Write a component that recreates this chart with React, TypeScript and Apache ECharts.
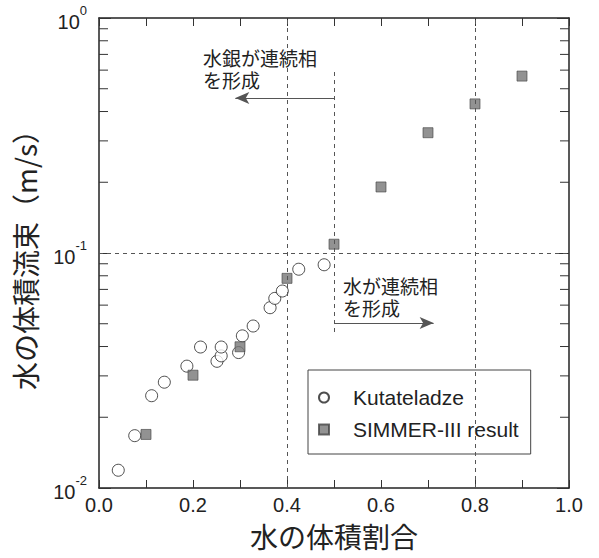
import React, { useEffect, useRef } from "react";
import * as echarts from "echarts";

// Kutateladze correlation (open circles)
const kutX = [0.041, 0.076, 0.112, 0.139, 0.187, 0.216, 0.251, 0.26, 0.26, 0.297, 0.305, 0.328, 0.364, 0.374, 0.39, 0.425, 0.479];
const kutY = [0.0119, 0.0167, 0.0247, 0.0282, 0.033, 0.0398, 0.0346, 0.0365, 0.0398, 0.0377, 0.0444, 0.0489, 0.0585, 0.0641, 0.0689, 0.0853, 0.0891];

// SIMMER-III result (filled squares)
const simX = [0.1, 0.2, 0.3, 0.4, 0.5, 0.6, 0.7, 0.8, 0.9];
const simY = [0.0169, 0.0302, 0.0399, 0.078, 0.109, 0.191, 0.325, 0.431, 0.566];

// log minor tick values
const minorTicks = [0.02, 0.03, 0.04, 0.05, 0.06, 0.07, 0.08, 0.09, 0.2, 0.3, 0.4, 0.5, 0.6, 0.7, 0.8, 0.9];

const seriesNames = ["Kutateladze", "SIMMER-III result"];
const xName = "水の体積割合";
const yName = "水の体積流束（m/s）";
const noteMercury = "水銀が連続相\nを形成";
const noteWater = "水が連続相\nを形成";

// annotation lines (data coordinates)
const dashedX = [0.4, 0.8];
const dashedY = [0.1];
const boundaryX = 0.5;
const boundarySpan = [0.589, 0.0448];
const leftArrow = { y: 0.457, from: 0.5, to: 0.29 };
const rightArrow = { y: 0.0504, from: 0.5, to: 0.712 };

const LATIN = "'Liberation Sans', Arial, sans-serif";
const CJK = "'Noto Sans CJK JP', sans-serif";
const NOTE_FONT = "'Liberation Sans', 'Noto Sans CJK JP', sans-serif";
const INK = "#222";

export default function App() {
  const ref = useRef<HTMLDivElement>(null);

  useEffect(() => {
    if (!ref.current) return;
    const chart = echarts.init(ref.current, undefined, { renderer: "svg" });

    const dashStyle = { type: [4, 4] as any, color: "#555", width: 1 };
    const markData: any[] = [
      ...dashedX.map((v) => ({ xAxis: v, lineStyle: dashStyle })),
      ...dashedY.map((v) => ({ yAxis: v, lineStyle: dashStyle })),
      [
        { coord: [boundaryX, boundarySpan[0]], lineStyle: dashStyle },
        { coord: [boundaryX, boundarySpan[1]] },
      ],
    ];
    const arrowData: any[] = [
      [
        { coord: [leftArrow.from, leftArrow.y] },
        { coord: [leftArrow.to, leftArrow.y] },
      ],
      [
        { coord: [rightArrow.from, rightArrow.y] },
        { coord: [rightArrow.to, rightArrow.y] },
      ],
    ];

    const xAxisCommon = {
      type: "value" as const,
      min: 0,
      max: 1,
      interval: 0.1,
      splitLine: { show: false },
      axisLine: { show: true, onZero: false, lineStyle: { color: "#222", width: 1.5 } },
      axisTick: { show: true, inside: true, length: 8, lineStyle: { color: "#333", width: 1 } },
    };
    const yAxisCommon = {
      type: "log" as const,
      logBase: 10,
      min: 0.01,
      max: 1,
      splitLine: { show: false },
      axisLine: { show: true, onZero: false, lineStyle: { color: "#222", width: 1.5 } },
      axisTick: { show: true, inside: true, length: 12, lineStyle: { color: "#333", width: 1 } },
    };

    const noteStyle = (text: string) => ({
      text,
      font: `19px ${NOTE_FONT}`,
      lineHeight: 22,
      fill: INK,
      verticalAlign: "top",
      align: "left",
    });

    chart.setOption({
      animation: false,
      backgroundColor: "#fff",
      grid: { left: 99, right: 30, top: 18, bottom: 70, containLabel: false, outerBoundsMode: "none" } as any,
      legend: {
        data: seriesNames,
        orient: "vertical",
        left: 308,
        top: 370,
        padding: [17, 12, 14, 10],
        itemWidth: 10,
        itemHeight: 10,
        itemGap: 11,
        borderColor: "#444",
        borderWidth: 1,
        textStyle: { fontSize: 21, fontFamily: LATIN, color: INK, padding: [0, 0, 0, 19] },
      },
      xAxis: [
        {
          ...xAxisCommon,
          position: "bottom",
          axisLabel: {
            margin: 7,
            fontSize: 20,
            fontFamily: LATIN,
            color: INK,
            formatter: (v: number) => (Math.round(v * 10) % 2 === 0 ? v.toFixed(1) : ""),
          },
          name: xName,
          nameLocation: "middle",
          nameGap: 34,
          nameTextStyle: { fontSize: 28, fontFamily: CJK, color: INK },
        },
        { ...xAxisCommon, position: "top", axisLabel: { show: false } },
      ],
      yAxis: [
        {
          ...yAxisCommon,
          position: "left",
          axisLabel: {
            margin: 12,
            formatter: (v: number) => `{b|10}{s|${Math.round(Math.log10(v))}}`,
            rich: {
              b: { fontSize: 20, fontFamily: LATIN, color: INK, lineHeight: 28, verticalAlign: "bottom" },
              s: { fontSize: 13, fontFamily: LATIN, color: INK, lineHeight: 13, verticalAlign: "top" },
            },
          },
          name: yName,
          nameLocation: "middle",
          nameGap: 60,
          nameRotate: 90,
          nameTextStyle: { fontSize: 28, fontFamily: CJK, color: INK },
        },
        { ...yAxisCommon, position: "right", axisLabel: { show: false } },
      ],
      graphic: [
        { type: "text", x: 203, y: 48, style: noteStyle(noteMercury) },
        { type: "text", x: 343, y: 276, style: noteStyle(noteWater) },
      ],
      series: [
        {
          type: "custom",
          name: "minor",
          silent: true,
          coordinateSystem: "cartesian2d",
          data: minorTicks.map((v) => [0, v]),
          renderItem: (params: any, api: any) => {
            const v = api.value(1);
            const p0 = api.coord([0, v]);
            const p1 = api.coord([1, v]);
            const st = { stroke: "#333", lineWidth: 1 };
            return {
              type: "group",
              children: [
                { type: "line", shape: { x1: p0[0], y1: p0[1], x2: p0[0] + 9, y2: p0[1] }, style: st },
                { type: "line", shape: { x1: p1[0] - 9, y1: p1[1], x2: p1[0], y2: p1[1] }, style: st },
              ],
            };
          },
          z: 1,
        },
        {
          type: "line",
          name: "guides",
          data: [],
          silent: true,
          z: 1,
          markLine: {
            silent: true,
            symbol: ["none", "none"],
            label: { show: false },
            data: markData,
          },
        },
        {
          type: "line",
          name: "arrows",
          data: [],
          silent: true,
          z: 1,
          markLine: {
            silent: true,
            symbol: ["none", "arrow"],
            symbolSize: [9, 14],
            label: { show: false },
            lineStyle: { type: "solid", color: "#555", width: 1 },
            data: arrowData,
          },
        },
        {
          type: "scatter",
          name: seriesNames[0],
          symbol: "circle",
          symbolSize: 12,
          itemStyle: { color: "#fff", borderColor: "#222", borderWidth: 1 },
          data: kutX.map((x, i) => [x, kutY[i]]),
          z: 3,
        },
        {
          type: "scatter",
          name: seriesNames[1],
          symbol: "rect",
          symbolSize: 10,
          itemStyle: { color: "#777", borderColor: "#444", borderWidth: 0.8 },
          data: simX.map((x, i) => [x, simY[i]]),
          z: 4,
        },
      ],
    });

    return () => chart.dispose();
  }, []);

  return (
    <div
      ref={ref}
      style={{ position: "fixed", left: 0, top: 0, width: 599, height: 558, background: "#fff" }}
    />
  );
}
